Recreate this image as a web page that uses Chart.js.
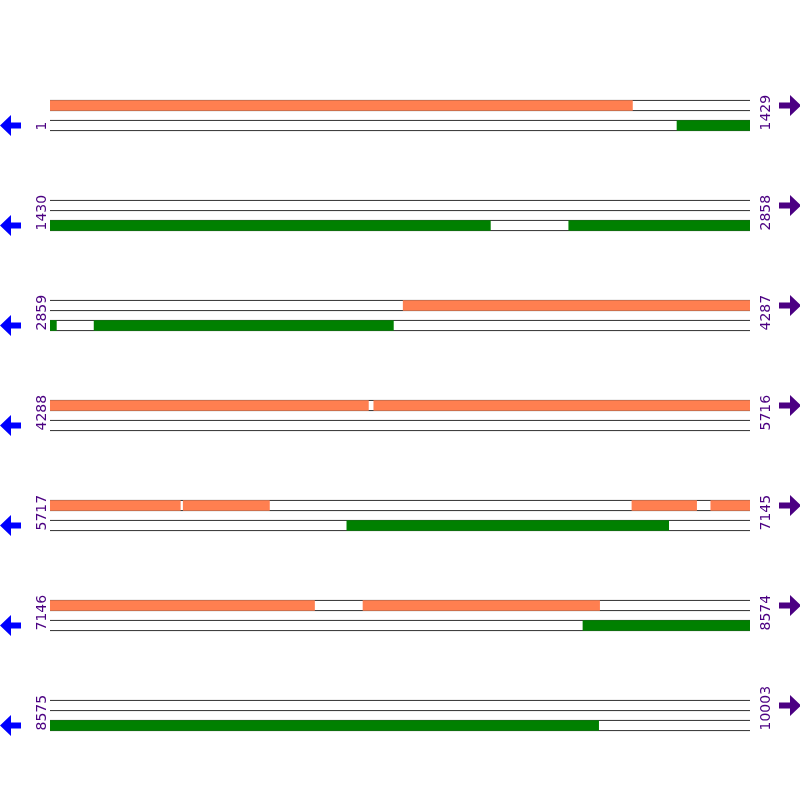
<!DOCTYPE html>
<html>
<head>
<meta charset="utf-8">
<script src="https://cdn.jsdelivr.net/npm/chart.js@4"></script>
<style>
  html, body { margin: 0; padding: 0; background: #fff; }
  #wrap { width: 800px; height: 800px; }
</style>
</head>
<body>
<div id="wrap"><canvas id="mapChart" width="800" height="800"></canvas></div>
<script>
// sequence layout: 7 lines of 1429 bases, total 10003
const seqLength = 10003;
const basesPerLine = 1429;
const lineStarts = [1, 1430, 2859, 4288, 5717, 7146, 8575];
const lineEnds = [1429, 2858, 4287, 5716, 7145, 8574, 10003];

// features in sequence coordinates (start, end)
const forwardStarts = [1, 3580, 4949, 5989, 6905, 7066, 7785];
const forwardEnds = [1189, 4937, 5982, 6164, 7036, 7685, 8267];
const reverseStarts = [1281, 2489, 2949, 6323, 8234];
const reverseEnds = [2328, 2871, 3559, 6979, 9694];

const forwardColor = '#ff7f50';
const reverseColor = '#008000';
const labelColor = '#4b0082';
const leftArrowColor = '#0000ff';

// y value of a track: each line is 10 units, the reverse track sits 2 units below
function trackY(line, strand) {
    return line * 10 + (strand === 0 ? 0 : 2);
}

// split features into per-line segments
function segments(starts, ends, strand) {
    let out = [];
    for (let i = 0; i < lineStarts.length; i++) {
        for (let k = 0; k < starts.length; k++) {
            let s = Math.max(starts[k], lineStarts[i]);
            let e = Math.min(ends[k], lineEnds[i]);
            if (s <= e) {
                out.push({ x: [s - lineStarts[i], e - lineStarts[i] + 1], y: trackY(i, strand) });
            }
        }
    }
    return out;
}

let tracks = [];
for (let i = 0; i < lineStarts.length; i++) {
    tracks.push({ x: [0, basesPerLine], y: trackY(i, 0) });
    tracks.push({ x: [0, basesPerLine], y: trackY(i, 1) });
}

// line numbers and strand arrows
const decorations = {
    id: 'decorations',
    afterDraw(chart) {
        let ctx = chart.ctx;
        let area = chart.chartArea;
        let yScale = chart.scales.y;
        ctx.save();
        ctx.font = '14px "DejaVu Sans"';
        ctx.textAlign = 'left';
        ctx.textBaseline = 'middle';
        for (let i = 0; i < lineStarts.length; i++) {
            let yTop = yScale.getPixelForValue(trackY(i, 0));
            let yBot = yScale.getPixelForValue(trackY(i, 1));
            let textBottom = yBot + 5;

            ctx.save();
            ctx.translate(area.left - 9, textBottom);
            ctx.rotate(-Math.PI / 2);
            ctx.fillStyle = labelColor;
            ctx.fillText(String(lineStarts[i]), 0, 1);
            ctx.restore();

            ctx.save();
            ctx.translate(area.right + 15, textBottom);
            ctx.rotate(-Math.PI / 2);
            ctx.fillStyle = labelColor;
            ctx.fillText(String(lineEnds[i]), 0, 1);
            ctx.restore();

            // reverse strand arrow (left)
            ctx.fillStyle = leftArrowColor;
            ctx.beginPath();
            ctx.moveTo(0, yBot);
            ctx.lineTo(11, yBot - 10.5);
            ctx.lineTo(11, yBot - 3);
            ctx.lineTo(21, yBot - 3);
            ctx.lineTo(21, yBot + 3);
            ctx.lineTo(11, yBot + 3);
            ctx.lineTo(11, yBot + 10.5);
            ctx.closePath();
            ctx.fill();

            // forward strand arrow (right)
            ctx.fillStyle = labelColor;
            ctx.beginPath();
            ctx.moveTo(801, yTop);
            ctx.lineTo(790, yTop - 10.5);
            ctx.lineTo(790, yTop - 3);
            ctx.lineTo(779, yTop - 3);
            ctx.lineTo(779, yTop + 3);
            ctx.lineTo(790, yTop + 3);
            ctx.lineTo(790, yTop + 10.5);
            ctx.closePath();
            ctx.fill();
        }
        ctx.restore();
    }
};

let ctx = document.getElementById('mapChart').getContext('2d');
let chart = new Chart(ctx, {
    type: 'bar',
    data: {
        datasets: [
            {
                label: 'forward',
                data: segments(forwardStarts, forwardEnds, 0),
                backgroundColor: forwardColor,
                borderWidth: 0,
                barThickness: 10,
                grouped: false,
                order: 1
            },
            {
                label: 'reverse',
                data: segments(reverseStarts, reverseEnds, 1),
                backgroundColor: reverseColor,
                borderWidth: 0,
                barThickness: 10,
                grouped: false,
                order: 1
            },
            {
                label: 'tracks',
                data: tracks,
                backgroundColor: '#ffffff',
                borderColor: '#000000',
                borderWidth: { top: 1, bottom: 1, left: 0, right: 0 },
                borderSkipped: false,
                barThickness: 11,
                grouped: false,
                order: 2
            }
        ]
    },
    options: {
        indexAxis: 'y',
        responsive: false,
        animation: false,
        events: [],
        layout: { padding: { left: 50, right: 50, top: 0, bottom: 0 } },
        plugins: {
            legend: { display: false },
            tooltip: { enabled: false }
        },
        scales: {
            x: { type: 'linear', min: 0, max: basesPerLine, display: false },
            y: { type: 'linear', min: -10.55, max: 69.45, reverse: true, offset: false, display: false }
        }
    },
    plugins: [decorations]
});
</script>
</body>
</html>
